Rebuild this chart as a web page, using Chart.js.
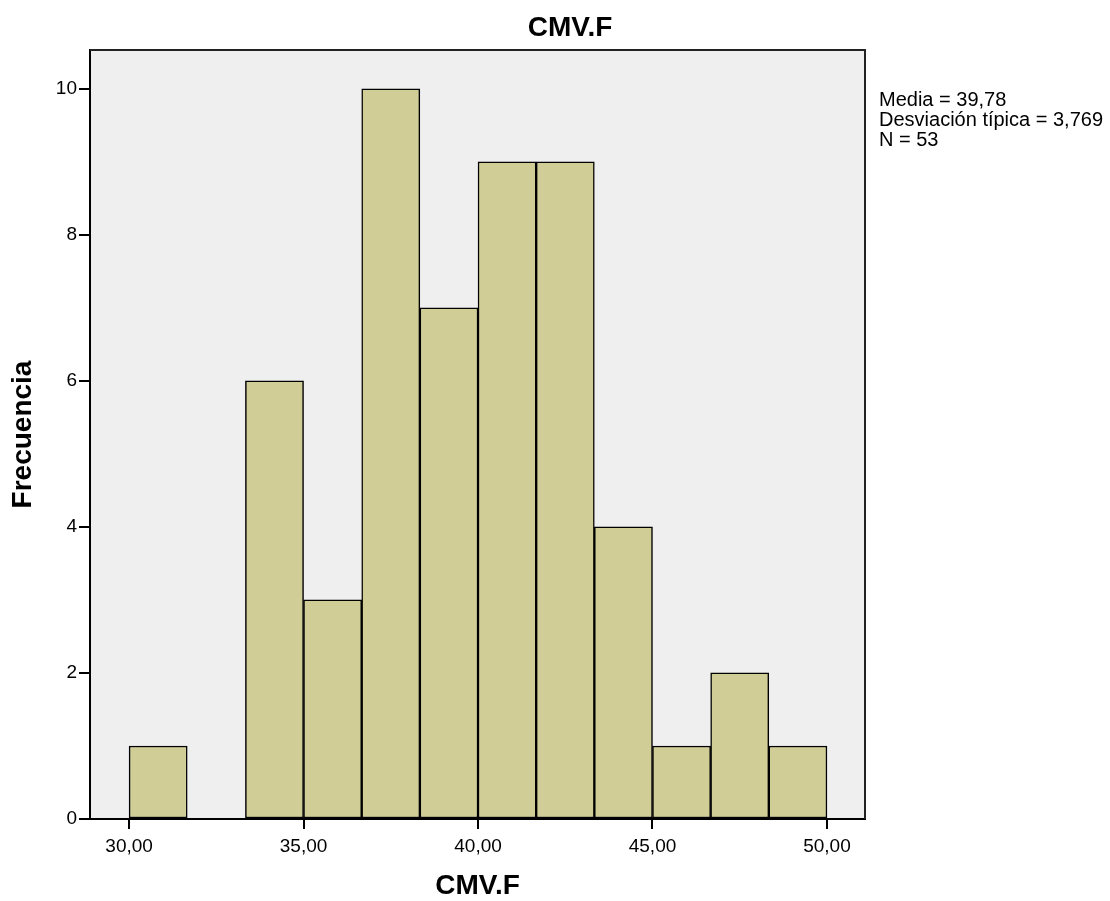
<!DOCTYPE html>
<html>
<head>
<meta charset="utf-8">
<script src="https://cdn.jsdelivr.net/npm/chart.js@4/dist/chart.umd.min.js"></script>
<style>
  body { margin: 0; background: #fff; }
  #wrap { width: 1110px; height: 901px; }
</style>
</head>
<body>
<div id="wrap"><canvas id="myChart" width="1110" height="901"></canvas></div>
<script>
// bin centres (bin width 5/3) and counts
var binCenters = [30.833, 32.5, 34.167, 35.833, 37.5, 39.167, 40.833, 42.5, 44.167, 45.833, 47.5, 49.167];
var counts = [1, 0, 6, 3, 10, 7, 9, 9, 4, 1, 2, 1];
var xTicks = [30, 35, 40, 45, 50];
var yTicks = [0, 2, 4, 6, 8, 10];
var statsLines = ["Media = 39,78", "Desviación típica = 3,769", "N = 53"];
var chartTitle = "CMV.F";
var xTitle = "CMV.F";
var yTitle = "Frecuencia";

var font = "'Liberation Sans', Arial, sans-serif";

var points = binCenters.map(function (c, i) { return { x: c, y: counts[i] }; });

const frame = {
  id: 'frame',
  beforeDraw(chart) {
    const { ctx, chartArea: a } = chart;
    ctx.save();
    ctx.fillStyle = '#efefef';
    ctx.fillRect(a.left, a.top, a.right - a.left, a.bottom - a.top);
    ctx.restore();
  },
  afterDraw(chart) {
    const { ctx, chartArea: a } = chart;
    ctx.save();
    // top and right frame
    ctx.strokeStyle = '#222';
    ctx.lineWidth = 2;
    ctx.beginPath();
    ctx.moveTo(a.left, a.top);
    ctx.lineTo(a.right, a.top);
    ctx.lineTo(a.right, a.bottom);
    ctx.stroke();

    ctx.fillStyle = '#000';
    ctx.textAlign = 'center';
    ctx.textBaseline = 'middle';
    ctx.font = "bold 28px " + font;
    ctx.fillText(chartTitle, 570, 28);
    ctx.fillText(xTitle, (a.left + a.right) / 2, 886);

    ctx.save();
    ctx.translate(23, (a.top + a.bottom) / 2);
    ctx.rotate(-Math.PI / 2);
    ctx.fillText(yTitle, 0, 0);
    ctx.restore();

    ctx.textAlign = 'left';
    ctx.font = "20px " + font;
    statsLines.forEach(function (s, i) {
      ctx.fillText(s, 879, 100 + i * 20);
    });
    ctx.restore();
  }
};

new Chart("myChart", {
  type: "bar",
  data: {
    datasets: [{
      data: points,
      backgroundColor: "#d1cd96",
      borderColor: "#000",
      borderWidth: 1.5,
      borderSkipped: false,
      barPercentage: 1,
      categoryPercentage: 1
    }]
  },
  options: {
    responsive: false,
    animation: false,
    layout: { padding: { left: 0, top: 50, right: 245, bottom: 0 } },
    plugins: {
      legend: { display: false },
      tooltip: { enabled: false }
    },
    scales: {
      x: {
        type: "linear",
        offset: false,
        min: 28.88,
        max: 51.09,
        afterFit(s) { s.height = 82; },
        afterBuildTicks(s) { s.ticks = xTicks.map(function (v) { return { value: v }; }); },
        ticks: {
          includeBounds: false,
          color: "#000",
          padding: 6,
          font: { family: font, size: 19 },
          callback: function (v) { return v.toFixed(2).replace(".", ","); }
        },
        grid: { offset: false, drawOnChartArea: false, drawTicks: true, tickLength: 10, color: "#000", lineWidth: 2 },
        border: { display: true, color: "#000", width: 2 }
      },
      y: {
        min: 0,
        max: 10.53,
        afterFit(s) { s.width = 90; },
        afterBuildTicks(s) { s.ticks = yTicks.map(function (v) { return { value: v }; }); },
        ticks: {
          includeBounds: false,
          color: "#000",
          padding: 2,
          font: { family: font, size: 19 }
        },
        grid: { drawOnChartArea: false, drawTicks: true, tickLength: 11, color: "#000", lineWidth: 2 },
        border: { display: true, color: "#000", width: 2 }
      }
    }
  },
  plugins: [frame]
});
</script>
</body>
</html>
